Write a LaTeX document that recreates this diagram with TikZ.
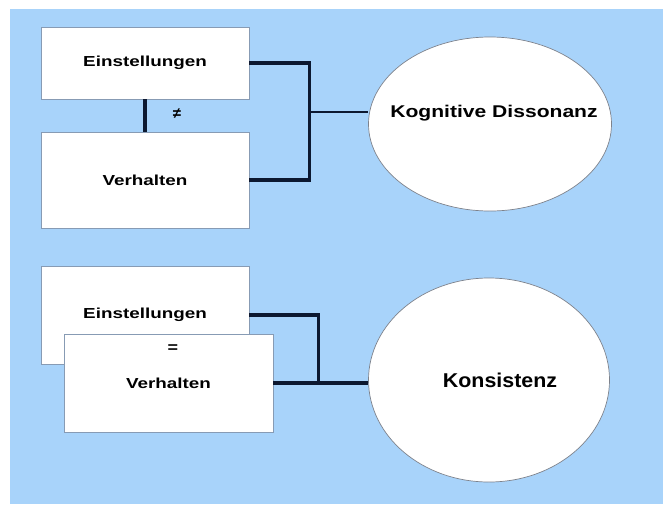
\documentclass[tikz,border=0pt]{standalone}
\usepackage{fontspec}
\setmainfont{Liberation Sans}
\usetikzlibrary{positioning,shapes.geometric}
\definecolor{skyback}{RGB}{168,211,250}
\definecolor{linknavy}{RGB}{12,24,48}
\definecolor{boxedge}{RGB}{135,155,180}
\definecolor{bubbleedge}{RGB}{125,130,140}
\newcommand\widen[2]{\scalebox{#1}[1]{#2}}

\begin{document}
\begin{tikzpicture}[x=1pt,y=-1pt,node distance=117pt,on grid,
    card/.style={rectangle,draw=boxedge,fill=white,line width=0.8pt,minimum width=208pt,
                 font=\bfseries\fontsize{14.5}{16}\selectfont},
    bubble/.style={ellipse,draw=bubbleedge,fill=white,line width=0.7pt,inner sep=0pt},
    bubbletext/.style={font=\bfseries\fontsize{#1}{#1}\selectfont},
    link/.style={draw=linknavy,line width=3.4pt}]
   \useasboundingbox (0,0) rectangle (663,504);
   \fill[skyback] (10,9) rectangle (663,504);
   % Dissonanz
   \node[card,minimum height=72pt] (einst_a) at (145,63) {\widen{1.3}{Einstellungen}};
   \node[card,minimum height=96pt] (verh_a) [below=of einst_a] {\widen{1.3}{Verhalten}};
   \node[font=\bfseries\fontsize{15}{16}\selectfont] (ne_sign) at (177,114) {≠};
   \node[bubble,minimum width=243pt,minimum height=174pt,
         label={[bubbletext=17,xshift=4pt,yshift=11pt]center:\widen{1.24}{Kognitive Dissonanz}}]
         (diss) at (490,124) {};
   \coordinate (fork_a) at (309,112);
   \draw[link] (einst_a) -- (verh_a);
   \draw[link] (einst_a.east) -- ++(60,0) |- (verh_a.east);
   \draw[link,line width=2.6pt] (fork_a) -- (fork_a -| diss.west);
   % Konsistenz
   \node[card,minimum height=98pt] (einst_b) [below=135pt of verh_a] {\widen{1.3}{Einstellungen}};
   \node[card,minimum height=98pt,minimum width=209pt] (verh_b) [below right=68pt and 23.5pt of einst_b]
         {\widen{1.3}{Verhalten}};
   \node[font=\bfseries\fontsize{15}{16}\selectfont] (eq_sign) at (173,349) {\widen{1.2}{=}};
   \node[bubble,minimum width=241pt,minimum height=204pt,
         label={[bubbletext=20,xshift=11pt]center:\widen{1.07}{Konsistenz}}]
         (kons) at (489,380) {};
   \draw[link] (einst_b.east) -| ([xshift=45pt]verh_b.east);
   \draw[link] (verh_b.east) -- (verh_b.east -| kons.west);
\end{tikzpicture}
\end{document}
